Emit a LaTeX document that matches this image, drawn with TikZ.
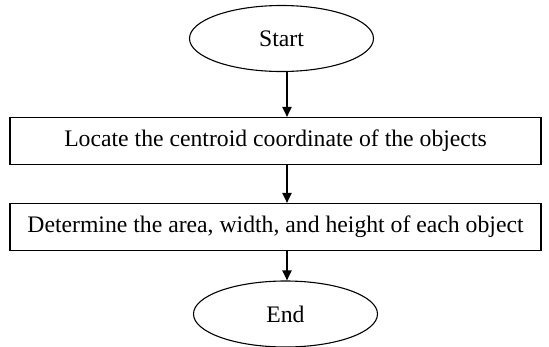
\documentclass[tikz,border=0pt]{standalone}
\usepackage{fontspec}
\setmainfont{Liberation Serif}
\usetikzlibrary{shapes.geometric,arrows.meta}
\begin{document}
\begin{tikzpicture}[x=1pt,y=-1pt,
  terminal/.style={draw, line width=1.1pt, ellipse, minimum width=184pt, minimum height=66pt, inner sep=0pt, font=\fontsize{23.7}{28}\selectfont},
  process/.style={draw, line width=1.1pt, rectangle, minimum width=531pt, minimum height=47pt, inner sep=0pt, font=\fontsize{23.7}{28}\selectfont},
  flow/.style={line width=2pt, -{Triangle[length=10pt,width=9pt]}}]
  \useasboundingbox (0,0) rectangle (549,346);
  \node[terminal] (start) at (281.5,38.5) {Start};
  \node[process] (locate) at (275.5,141) {Locate the centroid coordinate of the objects};
  \node[process] (measure) at (275.5,227) {Determine the area, width, and height of each object};
  \node[terminal] (end) at (285.5,314) {End};
  \coordinate (a1) at (287,72);
  \coordinate (a2) at (287,164.5);
  \coordinate (a3) at (287,250.5);
  \draw[flow] (a1) -- (a1 |- locate.north);
  \draw[flow] (a2) -- (a2 |- measure.north);
  \draw[flow] (a3) -- (a3 |- end.north);
\end{tikzpicture}
\end{document}
